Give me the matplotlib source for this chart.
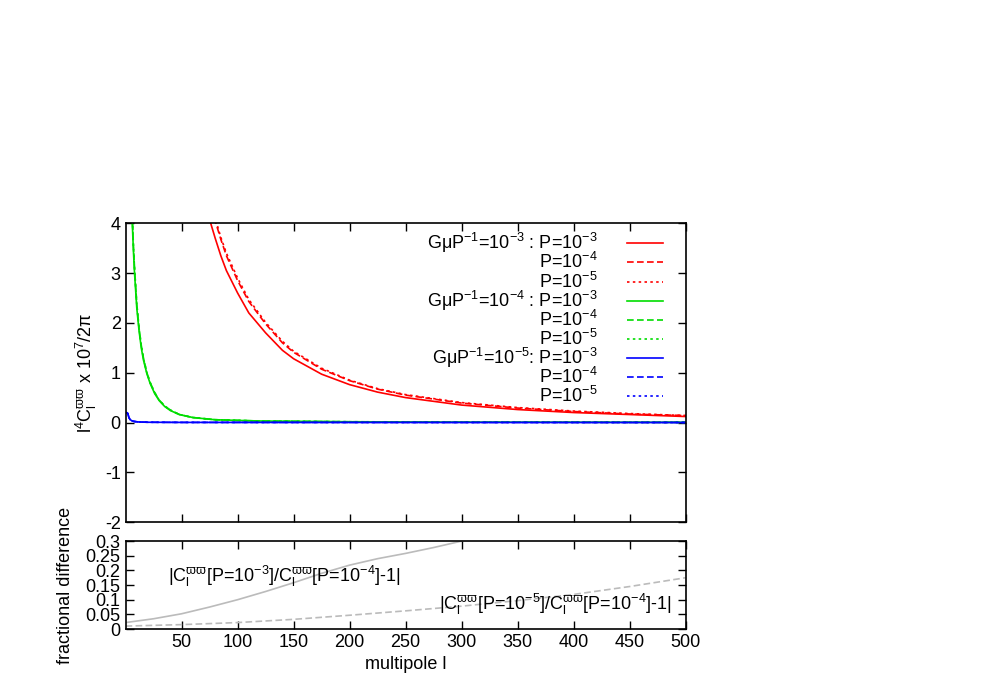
import numpy as np
import matplotlib.pyplot as plt

plt.rcParams['font.family'] = 'Liberation Sans'
plt.rcParams['mathtext.fontset'] = 'custom'
plt.rcParams['mathtext.rm'] = 'Liberation Sans'
plt.rcParams['mathtext.it'] = 'Liberation Sans'
plt.rcParams['axes.unicode_minus'] = False

# main panel curves
ell_red = [70, 76, 80, 85, 90, 100, 110, 125, 140, 150, 175, 200, 225, 250, 300, 350, 400, 450, 500]
red_p3 = [4.6, 4.0, 3.7, 3.35, 3.05, 2.6, 2.2, 1.8, 1.45, 1.28, 0.97, 0.76, 0.61, 0.5, 0.35, 0.26, 0.2, 0.16, 0.12]
red_p4 = [5.1, 4.4, 4.05, 3.68, 3.35, 2.85, 2.43, 1.98, 1.6, 1.41, 1.07, 0.84, 0.67, 0.55, 0.39, 0.29, 0.22, 0.17, 0.14]
red_p5 = [5.2, 4.45, 4.1, 3.72, 3.4, 2.9, 2.47, 2.01, 1.63, 1.43, 1.09, 0.85, 0.68, 0.56, 0.4, 0.3, 0.23, 0.18, 0.14]

ell_green = [5, 6, 7, 8, 10, 12, 14, 16, 19, 22, 26, 30, 35, 40, 48, 60, 80, 120, 200, 300, 500]
green_p3 = [4.8, 4.0, 3.45, 3.0, 2.3, 1.85, 1.5, 1.25, 0.98, 0.78, 0.58, 0.44, 0.32, 0.24, 0.16, 0.1, 0.055, 0.03, 0.015, 0.008, 0.004]
green_p4 = [5.0, 4.15, 3.55, 3.1, 2.38, 1.9, 1.55, 1.29, 1.0, 0.8, 0.6, 0.45, 0.33, 0.25, 0.16, 0.1, 0.056, 0.03, 0.015, 0.008, 0.004]
green_p5 = [5.0, 4.15, 3.55, 3.1, 2.38, 1.9, 1.55, 1.29, 1.0, 0.8, 0.6, 0.45, 0.33, 0.25, 0.16, 0.1, 0.056, 0.03, 0.015, 0.008, 0.004]

ell_blue = [1, 2, 3, 4, 6, 8, 12, 20, 50, 500]
blue_p3 = [0.2, 0.18, 0.1, 0.06, 0.03, 0.02, 0.01, 0.005, 0.002, 0.0]

# lower panel: fractional differences
ell_frac = [0, 25, 50, 75, 100, 125, 150, 175, 200, 225, 250, 275, 300]
frac_34 = [0.022, 0.035, 0.052, 0.075, 0.1, 0.128, 0.158, 0.19, 0.218, 0.24, 0.258, 0.278, 0.3]
ell_frac2 = [0, 50, 100, 150, 200, 250, 300, 350, 400, 450, 500]
frac_54 = [0.01, 0.015, 0.022, 0.033, 0.047, 0.062, 0.078, 0.097, 0.118, 0.145, 0.175]

fig = plt.figure(figsize=(9.81, 6.87), dpi=100)
ax = fig.add_axes([0.128, 0.240, 0.571, 0.435])
ax2 = fig.add_axes([0.128, 0.0844, 0.571, 0.128])

dash = (0, (4, 2))
dot = (0, (1.5, 2))
ax.plot(ell_red, red_p3, color='#ff0000', lw=1.2, ls='-')
ax.plot(ell_red, red_p4, color='#ff0000', lw=1.2, ls=dash)
ax.plot(ell_red, red_p5, color='#ff0000', lw=1.2, ls=dot)
ax.plot(ell_green, green_p3, color='#00dd00', lw=1.2, ls='-')
ax.plot(ell_green, green_p4, color='#00dd00', lw=1.2, ls=dash)
ax.plot(ell_green, green_p5, color='#00dd00', lw=1.2, ls=dot)
ax.plot(ell_blue, blue_p3, color='#0000ff', lw=1.2, ls='-')
ax.plot(ell_blue, blue_p3, color='#0000ff', lw=1.2, ls=dash)
ax.plot(ell_blue, blue_p3, color='#0000ff', lw=1.2, ls=dot)

# legend rows drawn in axes coordinates
rows = [
    (r'G$\mu$P$^{-1}$=10$^{-3}$ : P=10$^{-3}$', '#ff0000', '-'),
    (r'P=10$^{-4}$', '#ff0000', dash),
    (r'P=10$^{-5}$', '#ff0000', dot),
    (r'G$\mu$P$^{-1}$=10$^{-4}$ : P=10$^{-3}$', '#00dd00', '-'),
    (r'P=10$^{-4}$', '#00dd00', dash),
    (r'P=10$^{-5}$', '#00dd00', dot),
    (r'G$\mu$P$^{-1}$=10$^{-5}$: P=10$^{-3}$', '#0000ff', '-'),
    (r'P=10$^{-4}$', '#0000ff', dash),
    (r'P=10$^{-5}$', '#0000ff', dot),
]
for i, (lab, col, ls) in enumerate(rows):
    yy = 0.933 - i * 0.064
    ax.plot([0.895, 0.959], [yy, yy], transform=ax.transAxes, color=col, ls=ls, lw=1.2)
    ax.text(0.843, yy, lab, transform=ax.transAxes, ha='right', va='center', fontsize=13)

ax.set_xlim(0, 500)
ax.set_ylim(-2, 4)
ax.set_xticks(range(50, 501, 50))
ax.set_xticklabels([])
ax.set_yticks(range(-2, 5))
ax.set_ylabel(r'l$^4$C$_l^{\varpi\varpi}$ x 10$^7$/2$\pi$', fontsize=13)

ax2.plot(ell_frac, frac_34, color='#bbbbbb', lw=1.2)
ax2.plot(ell_frac2, frac_54, color='#bbbbbb', lw=1.2, ls=dash)
ax2.text(0.075, 0.6, r'|C$_l^{\varpi\varpi}$[P=10$^{-3}$]/C$_l^{\varpi\varpi}$[P=10$^{-4}$]-1|',
         transform=ax2.transAxes, fontsize=13, va='center')
ax2.text(0.975, 0.28, r'|C$_l^{\varpi\varpi}$[P=10$^{-5}$]/C$_l^{\varpi\varpi}$[P=10$^{-4}$]-1|',
         transform=ax2.transAxes, fontsize=13, va='center', ha='right')
ax2.set_xlim(0, 500)
ax2.set_ylim(0, 0.3)
ax2.set_xticks(range(50, 501, 50))
ax2.set_yticks([0, 0.05, 0.1, 0.15, 0.2, 0.25, 0.3])
ax2.set_yticklabels(['0', '0.05', '0.1', '0.15', '0.2', '0.25', '0.3'])
ax2.set_xlabel('multipole l', fontsize=13)
ax2.set_ylabel('fractional difference', fontsize=13, labelpad=8)

for a in (ax, ax2):
    a.tick_params(direction='in', top=True, right=True, labelsize=13, length=6, width=1)
    for s in a.spines.values():
        s.set_linewidth(1.2)

fig.savefig('out.png', dpi=100)
